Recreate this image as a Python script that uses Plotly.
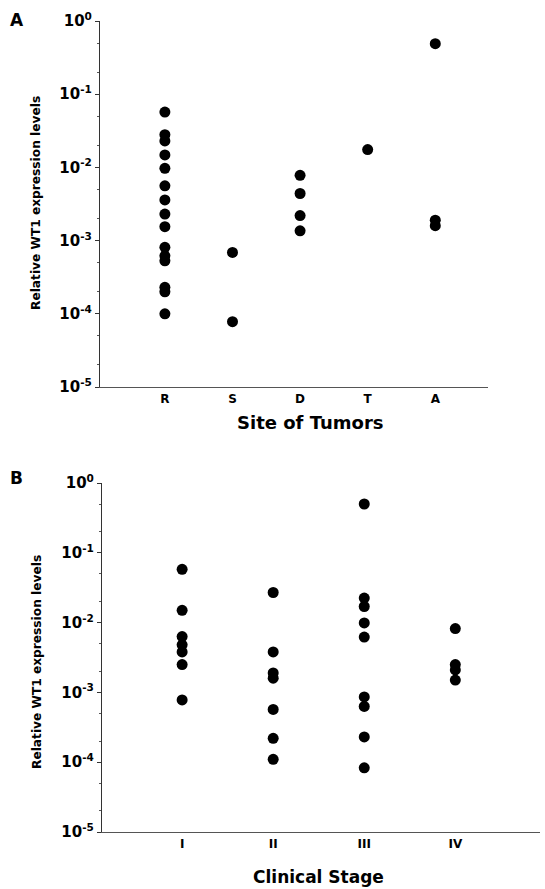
import plotly.graph_objects as go

# ---------------- data ----------------
site_categories = ["R", "S", "D", "T", "A"]
site_R = [0.057, 0.028, 0.023, 0.0148, 0.0097, 0.0056, 0.0036, 0.0023, 0.00155,
          0.00081, 0.00062, 0.00053, 0.00023, 0.0002, 0.0001]
site_S = [0.00069, 0.000078]
site_D = [0.0078, 0.0044, 0.0022, 0.00136]
site_T = [0.0175]
site_A = [0.49, 0.0019, 0.0016]

stage_categories = ["I", "II", "III", "IV"]
stage_I = [0.058, 0.015, 0.0063, 0.0048, 0.0038, 0.0025, 0.00078]
stage_II = [0.027, 0.0038, 0.0019, 0.0016, 0.00057, 0.00022, 0.00011]
stage_III = [0.5, 0.0225, 0.017, 0.0099, 0.0062, 0.00086, 0.00063, 0.00023, 0.000083]
stage_IV = [0.0082, 0.0025, 0.0021, 0.0015]

y_tickvals = [1e-5, 1e-4, 1e-3, 1e-2, 1e-1, 1e0]
y_ticktext = ["10<sup>-5</sup>", "10<sup>-4</sup>", "10<sup>-3</sup>",
              "10<sup>-2</sup>", "10<sup>-1</sup>", "10<sup>0</sup>"]

FONT = "DejaVu Sans"
W, H = 545, 889

fig = go.Figure()

def add_group(cats, groups, xa, ya):
    xs, ys = [], []
    for c, vals in zip(cats, groups):
        xs += [c] * len(vals)
        ys += vals
    fig.add_trace(go.Scatter(x=xs, y=ys, mode="markers", xaxis=xa, yaxis=ya,
                             marker=dict(size=11, color="black", line=dict(width=0)),
                             showlegend=False))

add_group(site_categories, [site_R, site_S, site_D, site_T, site_A], "x", "y")
add_group(stage_categories, [stage_I, stage_II, stage_III, stage_IV], "x2", "y2")

def yaxis_cfg(domain, anchor):
    return dict(type="log", range=[-5, 0], domain=domain, anchor=anchor,
                tickvals=y_tickvals, ticktext=y_ticktext, automargin=False,
                ticks="outside", ticklen=4, tickcolor="#333", tickwidth=1,
                minor=dict(ticks="outside", ticklen=2, tickcolor="#555", showgrid=False),
                showline=True, linecolor="#333", linewidth=1.2,
                showgrid=False, zeroline=False,
                tickfont=dict(family=FONT, size=15, color="black", weight="bold"))

def xaxis_cfg(domain, anchor, rng, cats):
    return dict(type="category", categoryorder="array", categoryarray=cats,
                domain=domain, anchor=anchor, range=rng, automargin=False,
                showline=True, linecolor="#555", linewidth=1.2,
                ticks="", showgrid=False, zeroline=False,
                tickfont=dict(family=FONT, size=12, color="black", weight="bold"))

fig.update_layout(
    width=W, height=H,
    margin=dict(l=0, r=0, t=0, b=0, autoexpand=False),
    paper_bgcolor="white", plot_bgcolor="white",
    xaxis=xaxis_cfg([100 / W, 488 / W], "y", [-0.96, 4.78], site_categories),
    yaxis=yaxis_cfg([1 - 387 / H, 1 - 21 / H], "x"),
    xaxis2=xaxis_cfg([102 / W, 540 / W], "y2", [-0.88, 3.93], stage_categories),
    yaxis2=yaxis_cfg([1 - 832 / H, 1 - 483 / H], "x2"),
)

def ann(text, x, y, size, angle=0):
    fig.add_annotation(text=text, x=x / W, y=1 - y / H, xref="paper", yref="paper",
                       showarrow=False, textangle=angle, xanchor="center", yanchor="middle",
                       font=dict(family=FONT, size=size, color="black", weight="bold"))

ann("A", 17, 20, 17)
ann("B", 16, 478, 17)
ann("Relative WT1 expression levels", 36, 203, 12.2, -90)
ann("Relative WT1 expression levels", 37, 662, 12.2, -90)
ann("Site of Tumors", 310, 422, 18)
ann("Clinical Stage", 318, 877, 17)

fig.write_html("out.html",
               config={"displayModeBar": False},
               post_script="document.body.style.margin='0px';"
                           "document.body.style.overflow='hidden';")
